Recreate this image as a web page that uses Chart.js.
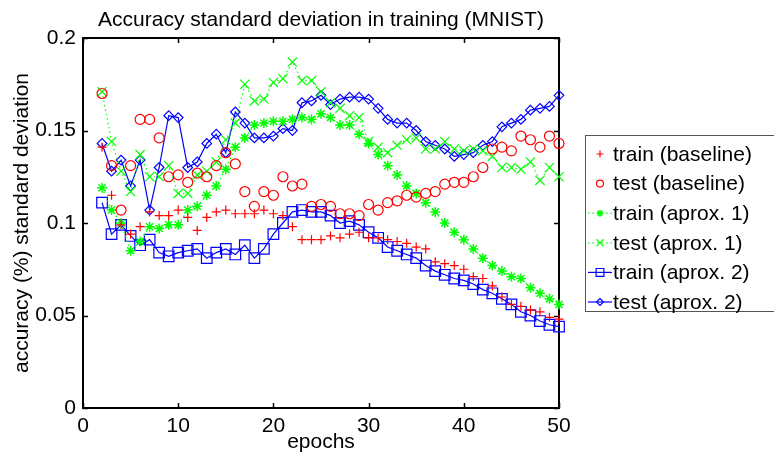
<!DOCTYPE html>
<html>
<head>
<meta charset="utf-8">
<script src="https://cdn.jsdelivr.net/npm/chart.js@4.4.1/dist/chart.umd.min.js"></script>
<style>
  html, body { margin: 0; padding: 0; background: #fff; }
  #wrap { width: 774px; height: 459px; }
</style>
</head>
<body>
<div id="wrap"><canvas id="chart" width="774" height="459"></canvas></div>
<script>
// --- DATA ---
const epochs = [2, 3, 4, 5, 6, 7, 8, 9, 10, 11, 12, 13, 14, 15, 16, 17, 18, 19, 20, 21, 22, 23, 24, 25, 26,
  27, 28, 29, 30, 31, 32, 33, 34, 35, 36, 37, 38, 39, 40, 41, 42, 43, 44, 45, 46, 47, 48, 49, 50];

const trainBaseline = [0.141, 0.115, 0.099, 0.094, 0.098, 0.106, 0.104, 0.104, 0.107, 0.103, 0.096, 0.103, 0.106, 0.107, 0.105, 0.105,
  0.105, 0.107, 0.105, 0.104, 0.098, 0.091, 0.091, 0.091, 0.093, 0.092, 0.094, 0.095, 0.092, 0.092, 0.091, 0.090, 0.089,
  0.087, 0.086, 0.079, 0.078, 0.077, 0.075, 0.071, 0.070, 0.066, 0.060, 0.056, 0.055, 0.053, 0.052, 0.049, 0.048];

const testBaseline = [0.170, 0.131, 0.107, 0.131, 0.156, 0.156, 0.146, 0.125, 0.126, 0.122, 0.127, 0.125, 0.131, 0.138, 0.132, 0.117,
  0.109, 0.117, 0.115, 0.125, 0.120, 0.121, 0.109, 0.110, 0.109, 0.105, 0.105, 0.104, 0.110, 0.107, 0.111, 0.112, 0.115,
  0.114, 0.116, 0.117, 0.121, 0.122, 0.122, 0.125, 0.130, 0.140, 0.141, 0.139, 0.147, 0.145, 0.141, 0.147, 0.143];

const trainAprox1 = [0.119, 0.107, 0.100, 0.085, 0.090, 0.098, 0.097, 0.099, 0.099, 0.107, 0.109, 0.115, 0.120, 0.129, 0.141, 0.146,
  0.153, 0.154, 0.155, 0.155, 0.156, 0.157, 0.156, 0.159, 0.157, 0.153, 0.153, 0.148, 0.143, 0.137, 0.131, 0.126, 0.120,
  0.116, 0.111, 0.106, 0.100, 0.095, 0.091, 0.086, 0.081, 0.077, 0.074, 0.071, 0.070, 0.065, 0.062, 0.059, 0.056];

const testAprox1 = [0.171, 0.144, 0.128, 0.117, 0.137, 0.125, 0.125, 0.131, 0.116, 0.116, 0.126, 0.128, 0.133, 0.145, 0.154, 0.175,
  0.166, 0.167, 0.176, 0.178, 0.187, 0.177, 0.177, 0.171, 0.165, 0.162, 0.158, 0.157, 0.144, 0.141, 0.138, 0.142, 0.145,
  0.146, 0.140, 0.140, 0.144, 0.140, 0.139, 0.140, 0.139, 0.136, 0.130, 0.130, 0.129, 0.133, 0.123, 0.130, 0.125];

const trainAprox2 = [0.111, 0.094, 0.099, 0.093, 0.088, 0.091, 0.084, 0.082, 0.084, 0.085, 0.086, 0.081, 0.084, 0.086, 0.083, 0.088,
  0.081, 0.086, 0.094, 0.100, 0.106, 0.107, 0.106, 0.106, 0.104, 0.100, 0.101, 0.099, 0.095, 0.092, 0.087, 0.085, 0.083,
  0.081, 0.077, 0.074, 0.072, 0.070, 0.069, 0.067, 0.064, 0.062, 0.059, 0.056, 0.052, 0.050, 0.047, 0.045, 0.044];

const testAprox2 = [0.143, 0.128, 0.134, 0.120, 0.134, 0.107, 0.130, 0.158, 0.157, 0.130, 0.133, 0.143, 0.148, 0.138, 0.160, 0.154,
  0.146, 0.146, 0.147, 0.151, 0.150, 0.165, 0.166, 0.169, 0.164, 0.167, 0.168, 0.168, 0.167, 0.162, 0.156, 0.154, 0.154,
  0.150, 0.144, 0.142, 0.140, 0.136, 0.137, 0.138, 0.142, 0.144, 0.152, 0.154, 0.156, 0.161, 0.162, 0.163, 0.169];

const xTicks = [0, 10, 20, 30, 40, 50];
const yTicks = [0, 0.05, 0.1, 0.15, 0.2];
const yTickLabels = ['0', '0.05', '0.1', '0.15', '0.2'];

const titleText = 'Accuracy standard deviation in training (MNIST)';
const xLabel = 'epochs';
const yLabel = 'accuracy (%) standard deviation';

// --- ESTILOS ---
const RED = '#ff0000', GREEN = '#00ff00', BLUE = '#0000ff';
const FONT = 'Liberation Sans, Arial, sans-serif';
const FONT_SIZE = 21;
const NONE = 'rgba(0,0,0,0)';

function makeSeries(label, values, color, pointStyle, radius, showLine, dash) {
  return {
    label: label,
    data: epochs.map((e, i) => ({ x: e, y: values[i] })),
    borderColor: color,
    backgroundColor: NONE,
    pointBorderColor: color,
    pointBackgroundColor: NONE,
    pointStyle: pointStyle,
    pointRadius: radius,
    pointHoverRadius: radius,
    pointBorderWidth: pointStyle === 'star' ? 1.5 : 1.2,
    borderWidth: 1.2,
    borderDash: dash || [],
    showLine: showLine,
    tension: 0,
    clip: false
  };
}

const datasets = [
  makeSeries('train (baseline)', trainBaseline, RED, 'cross', 4.5, false),
  makeSeries('test (baseline)', testBaseline, RED, 'circle', 5, false),
  makeSeries('train (aprox. 1)', trainAprox1, GREEN, 'star', 5, true, [1.5, 3]),
  makeSeries('test (aprox. 1)', testAprox1, GREEN, 'crossRot', 6.5, true, [1.5, 3]),
  makeSeries('train (aprox. 2)', trainAprox2, BLUE, 'rect', 7.5, true),
  makeSeries('test (aprox. 2)', testAprox2, BLUE, 'rectRot', 4.8, true)
];

// Moldura estilo MATLAB, ticks para dentro, título e legenda com caixa
const matlabFrame = {
  id: 'matlabFrame',
  beforeDatasetsDraw(chart) {
    const { ctx, chartArea: a, scales: { x, y } } = chart;
    ctx.save();
    ctx.strokeStyle = '#000';
    ctx.lineWidth = 2;
    ctx.strokeRect(a.left, a.top, a.right - a.left, a.bottom - a.top);
    ctx.lineWidth = 1.5;
    ctx.beginPath();
    xTicks.forEach(v => {
      const px = Math.round(x.getPixelForValue(v)) + 0.5;
      ctx.moveTo(px, a.bottom); ctx.lineTo(px, a.bottom - 5);
      ctx.moveTo(px, a.top); ctx.lineTo(px, a.top + 5);
    });
    yTicks.forEach(v => {
      const py = Math.round(y.getPixelForValue(v)) + 0.5;
      ctx.moveTo(a.left, py); ctx.lineTo(a.left + 5, py);
      ctx.moveTo(a.right, py); ctx.lineTo(a.right - 5, py);
    });
    ctx.stroke();

    // título centrado sobre a área do gráfico
    ctx.fillStyle = '#000';
    ctx.font = FONT_SIZE + 'px ' + FONT;
    ctx.textAlign = 'center';
    ctx.textBaseline = 'middle';
    ctx.fillText(titleText, (a.left + a.right) / 2, 20);
    ctx.restore();
  },
  afterDraw(chart) {
    const { ctx } = chart;
    const box = { x: 585.5, y: 135.5, w: 200, h: 176 };
    const rowTop = 154, rowStep = 29.6;
    ctx.save();
    ctx.fillStyle = '#fff';
    ctx.fillRect(box.x, box.y, box.w, box.h);
    ctx.strokeStyle = '#555';
    ctx.lineWidth = 1;
    ctx.strokeRect(box.x, box.y, box.w, box.h);
    chart.data.datasets.forEach((ds, i) => {
      const cy = rowTop + i * rowStep;
      if (ds.showLine) {
        ctx.save();
        ctx.strokeStyle = ds.borderColor;
        ctx.lineWidth = ds.borderWidth;
        ctx.setLineDash(ds.borderDash);
        ctx.beginPath();
        ctx.moveTo(588, cy); ctx.lineTo(612, cy);
        ctx.stroke();
        ctx.restore();
      }
      ctx.strokeStyle = ds.pointBorderColor;
      ctx.fillStyle = NONE;
      ctx.lineWidth = ds.pointBorderWidth;
      const r = ds.pointStyle === 'rect' ? 5.5 : (ds.pointStyle === 'crossRot' ? 5 : 3.5);
      Chart.helpers.drawPoint(ctx, { pointStyle: ds.pointStyle, radius: r, rotation: 0, borderWidth: ds.pointBorderWidth }, 600, cy);
      ctx.fillStyle = '#000';
      ctx.font = FONT_SIZE + 'px ' + FONT;
      ctx.textAlign = 'left';
      ctx.textBaseline = 'middle';
      ctx.fillText(ds.label, 613, cy + 1);
    });
    ctx.restore();
  }
};

Chart.defaults.font.family = FONT;
Chart.defaults.color = '#000';

new Chart(document.getElementById('chart').getContext('2d'), {
  type: 'scatter',
  data: { datasets: datasets },
  options: {
    responsive: false,
    animation: false,
    devicePixelRatio: 1,
    layout: { padding: { top: 38, right: 215, bottom: 0, left: 0 } },
    plugins: {
      legend: { display: false },
      title: { display: false },
      tooltip: { enabled: false }
    },
    scales: {
      x: {
        type: 'linear',
        min: 0,
        max: 50,
        afterFit: s => { s.height = 51; },
        afterBuildTicks: s => { s.ticks = xTicks.map(v => ({ value: v })); },
        grid: { display: false, drawTicks: false },
        border: { display: false },
        ticks: { font: { size: FONT_SIZE }, padding: 6, maxRotation: 0 },
        title: { display: true, text: xLabel, font: { size: FONT_SIZE }, padding: { top: 0, bottom: 4 } }
      },
      y: {
        type: 'linear',
        min: 0,
        max: 0.2,
        afterFit: s => { s.width = 83; },
        afterBuildTicks: s => { s.ticks = yTicks.map(v => ({ value: v })); },
        grid: { display: false, drawTicks: false },
        border: { display: false },
        ticks: {
          font: { size: FONT_SIZE },
          padding: 7,
          callback: (v, i) => yTickLabels[i]
        },
        title: { display: true, text: yLabel, font: { size: FONT_SIZE }, padding: { top: 10, bottom: 0 } }
      }
    }
  },
  plugins: [matlabFrame]
});
</script>
</body>
</html>
